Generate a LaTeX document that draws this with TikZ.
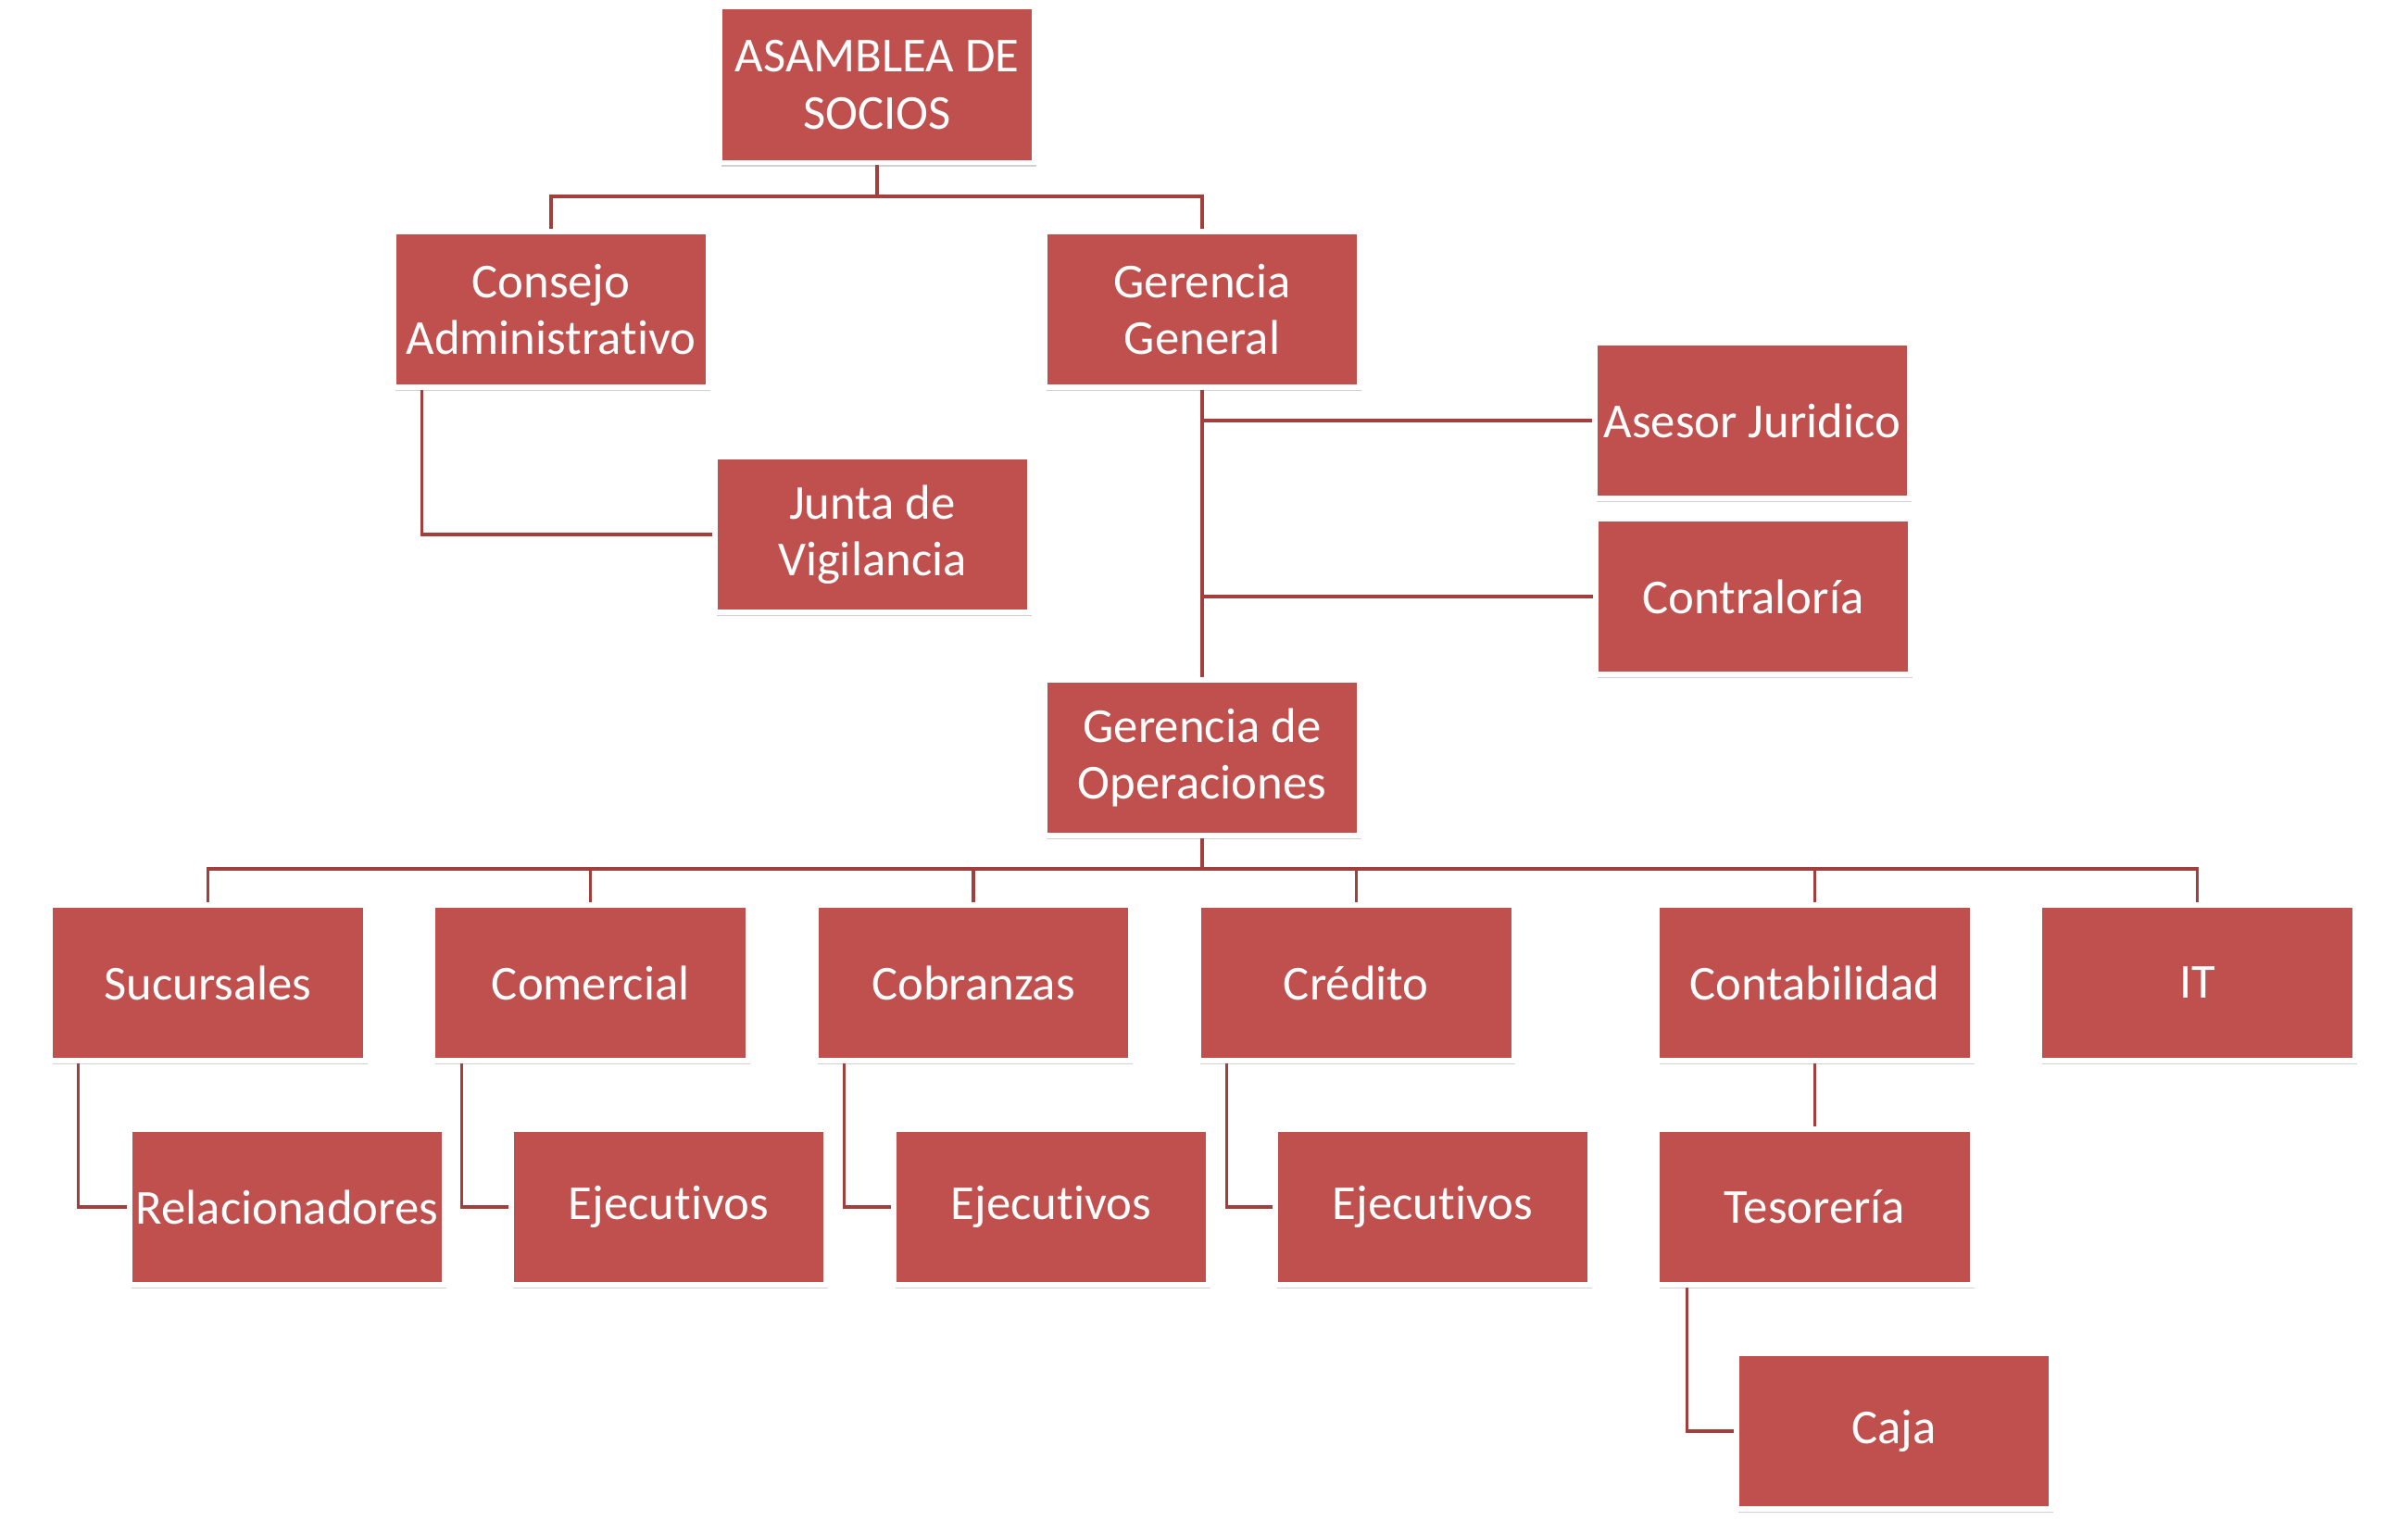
\documentclass[tikz,border=0pt]{standalone}
\usepackage{fontspec}
\setmainfont{Carlito}[Ligatures={NoCommon}]
\usepackage{tikz}
\usetikzlibrary{positioning}
\usetikzlibrary{shapes,calc,shadows,backgrounds}
\definecolor{boxred}{HTML}{C0504D}
\definecolor{linkred}{HTML}{A23F3C}
\tikzset{
  unit/.style = {rectangle, fill=boxred, draw=white, line width=1.5pt,
   minimum width=3.4cm, minimum height=1.68cm, inner sep=0pt,
   text=white, align=center, font=\fontsize{15}{17.5}\selectfont,
   drop shadow={shadow xshift=0.6pt, shadow yshift=-1.2pt,
    opacity=0.3, fill=black!60}},
  link/.style = {draw=linkred, line width=0.9pt},
}

\begin{document}
\begin{tikzpicture}
  \useasboundingbox (0,0) rectangle (26,-16.41);
  % top levels
  \node (AS) [unit] at (9.47,-0.915) {ASAMBLEA DE\\SOCIOS};
  \node (CA) [unit] at (5.95,-3.34) {Consejo\\Administrativo};
  \node (GG) [unit] at (12.98,-3.34) {Gerencia\\General};
  \node (JV) [unit] at (9.42,-5.77) {Junta de\\Vigilancia};
  \node (AJ) [unit] at (18.92,-4.54) {Asesor Juridico};
  \node (CO) [unit] at (18.93,-6.44) {Contraloría};
  \node (GO) [unit] at (12.98,-8.18) {Gerencia de\\Operaciones};
  % departments
  \node (SU) [unit] at (2.245,-10.61) {Sucursales};
  \node (CM) [unit, right = 0.68cm of SU] {Comercial};
  \node (CB) [unit, right = 0.68cm of CM] {Cobranzas};
  \node (CR) [unit, right = 0.68cm of CB] {Crédito};
  \node (CT) [unit] at (19.595,-10.61) {Contabilidad};
  \node (IT) [unit, right = 0.68cm of CT] {IT};
  % sub units
  \node (RE) [unit] at (3.10,-13.03) {Relacionadores};
  \node (E1) [unit] at (7.22,-13.03) {Ejecutivos};
  \node (E2) [unit] at (11.35,-13.03) {Ejecutivos};
  \node (E3) [unit] at (15.47,-13.03) {Ejecutivos};
  \node (TE) [unit] at (19.595,-13.03) {Tesorería};
  \node (CJ) [unit] at (20.45,-15.45) {Caja};

  \coordinate (b1) at (9.47,-2.12);
  \coordinate (b2) at (12.98,-9.38);

  \begin{scope}[on background layer]
    \path[link] (AS) -- (b1);
    \path[link] (CA.north) |- (b1) -| (GG.north);
    \path[link] ([xshift=0.33cm]CA.south west) |- (JV.west);
    \path[link] (GG) -- (GO);
    \path[link] (GG.south) |- (AJ.west);
    \path[link] (GG.south) |- (CO.west);
    \path[link] (GO) -- (b2);
    \foreach \n in {SU,CM,CB,CR,CT,IT}
      \path[link] (b2) -| (\n.north);
    \path[link] ([xshift=0.33cm]SU.south west) |- (RE.west);
    \path[link] ([xshift=0.33cm]CM.south west) |- (E1.west);
    \path[link] ([xshift=0.33cm]CB.south west) |- (E2.west);
    \path[link] ([xshift=0.33cm]CR.south west) |- (E3.west);
    \path[link] (CT) -- (TE);
    \path[link] ([xshift=0.35cm]TE.south west) |- (CJ.west);
  \end{scope}
\end{tikzpicture}
\end{document}
